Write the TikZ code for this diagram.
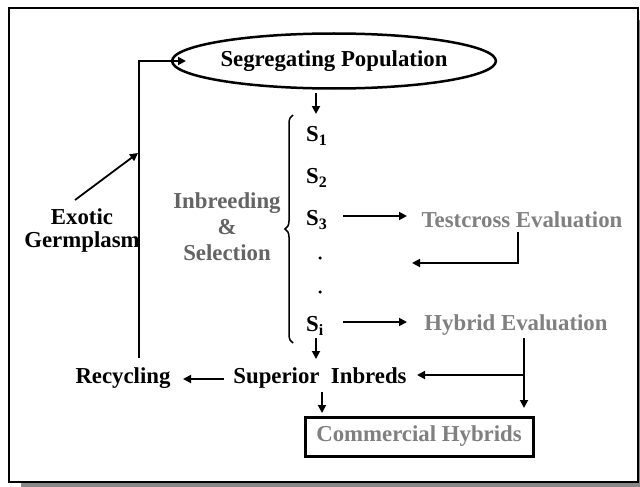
\documentclass[tikz,border=0pt]{standalone}
\usepackage{fontspec}
\setmainfont{Liberation Serif}
\usetikzlibrary{arrows.meta,shapes.geometric,decorations.pathreplacing}
\definecolor{txtgray}{RGB}{128,128,128}
\definecolor{inbgray}{RGB}{100,100,100}
\definecolor{shadowgray}{RGB}{136,136,136}
\begin{document}
\begin{tikzpicture}[x=1pt,y=-1pt,
  lbl/.style={font=\fontsize{22.8}{26}\selectfont\bfseries, inner sep=1pt, align=center},
  glbl/.style={lbl, text=txtgray},
  arr/.style={line width=1.8pt, -{Triangle[length=8pt,width=8pt]}},
  dotnode/.style={circle, fill, inner sep=0pt, minimum size=3.5pt}]
\useasboundingbox (0,0) rectangle (640,487);
\clip (0,0) rectangle (640,487);
% frame with shadow
\fill[shadowgray] (21,20) rectangle (660,500);
\draw[line width=2pt, fill=white] (9,8) rectangle (638,482);

% nodes
\node[ellipse, draw, line width=2.5pt, minimum width=287pt, minimum height=55pt, inner sep=0pt, lbl] (seg) at (334,61) {Segregating Population};
\node[lbl, anchor=west] (S1) at (305,136) {S\textsubscript{1}};
\node[lbl, anchor=west] (S2) at (305,178) {S\textsubscript{2}};
\node[lbl, anchor=west] (S3) at (305,220) {S\textsubscript{3}};
\node[dotnode] (d1) at (320,258) {};
\node[dotnode] (d2) at (320,292) {};
\node[lbl, anchor=west] (Si) at (305,326) {S\textsubscript{i}};
\node[glbl] (test) at (522,220) {Testcross Evaluation};
\node[glbl] (hyb) at (516,325) {Hybrid Evaluation};
\node[lbl] (sup) at (320,378) {Superior\hspace{0.5em}Inbreds};
\node[lbl] (rec) at (123,378) {Recycling};
\node[lbl] (exo) at (82,231) {Exotic\\[-3pt]Germplasm};
\node[lbl, text=inbgray] (inb) at (227,227) {Inbreeding\\\&\\Selection};
\node[draw, line width=3pt, minimum width=228pt, minimum height=39pt, glbl] (com) at (419,436.5) {Commercial Hybrids};

% connector points
\coordinate (segout) at (316,93);
\coordinate (s1in) at (316,114);
\coordinate (s3out) at (343,216);
\coordinate (testin) at (407,216);
\coordinate (testout) at (518,232);
\coordinate (testback) at (412,263);
\coordinate (siout) at (343,322);
\coordinate (hybin) at (407,322);
\coordinate (sidown) at (316,338);
\coordinate (supin) at (316,359);
\coordinate (hybout) at (524,338);
\coordinate (hybdown) at (524,408);
\coordinate (hybbranch) at (524,375);
\coordinate (supright) at (417,375);
\coordinate (supleft) at (224,379);
\coordinate (recin) at (183,379);
\coordinate (loopstart) at (139,358);
\coordinate (segin) at (186,61);
\coordinate (exostart) at (75,200);
\coordinate (exoend) at (138,153);
\coordinate (supout) at (322,392);
\coordinate (comin) at (322,413);

% brace
\draw[line width=1.5pt, decorate, decoration={brace, amplitude=8pt}] (293,343) -- (293,115);

% connectors
\draw[arr] (segout) -- (s1in);
\draw[arr] (s3out) -- (testin);
\draw[arr] (testout) |- (testback);
\draw[arr] (siout) -- (hybin);
\draw[arr] (sidown) -- (supin);
\draw[arr] (hybout) -- (hybdown);
\draw[arr] (hybbranch) -- (supright);
\draw[arr] (supleft) -- (recin);
\draw[arr] (loopstart) |- (segin);
\draw[arr] (exostart) -- (exoend);
\draw[arr] (supout) -- (comin);
\end{tikzpicture}
\end{document}
